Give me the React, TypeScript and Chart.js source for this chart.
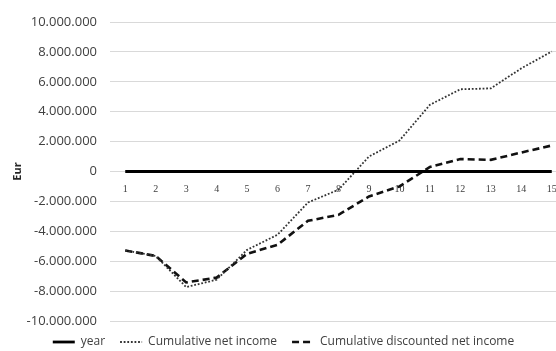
import React, { useEffect, useRef } from "react";
import { Chart, registerables } from "chart.js";

Chart.register(...registerables);

const years = ["1", "2", "3", "4", "5", "6", "7", "8", "9", "10", "11", "12", "13", "14", "15"];
const yearLine = [0, 0, 0, 0, 0, 0, 0, 0, 0, 0, 0, 0, 0, 0, 0];
const cumulativeNetIncome = [
  -5280000, -5650000, -7730000, -7240000, -5240000, -4230000, -2070000, -1220000,
  1000000, 2070000, 4460000, 5500000, 5560000, 6900000, 8030000,
];
const cumulativeDiscounted = [
  -5280000, -5650000, -7420000, -7100000, -5500000, -4900000, -3300000, -2900000,
  -1670000, -1000000, 300000, 830000, 780000, 1270000, 1740000,
];
const yMin = -10000000;
const yMax = 10000000;
const yStep = 2000000;

const formatEur = (v: number) => {
  const sign = v < 0 ? "-" : "";
  return sign + Math.abs(v).toString().replace(/\B(?=(\d{3})+(?!\d))/g, ".");
};

export default function App() {
  const canvasRef = useRef<HTMLCanvasElement | null>(null);

  useEffect(() => {
    if (!canvasRef.current) return;
    const chart = new Chart(canvasRef.current, {
      type: "line",
      data: {
        labels: years,
        datasets: [
          {
            label: "year",
            data: yearLine,
            borderColor: "#000000",
            backgroundColor: "#000000",
            borderWidth: 2.8,
            pointRadius: 0,
            tension: 0,
          },
          {
            label: "Cumulative net income",
            data: cumulativeNetIncome,
            borderColor: "#333333",
            backgroundColor: "#333333",
            borderWidth: 1.8,
            borderDash: [1.8, 1.8],
            pointRadius: 0,
            tension: 0,
          },
          {
            label: "Cumulative discounted net income",
            data: cumulativeDiscounted,
            borderColor: "#111111",
            backgroundColor: "#111111",
            borderWidth: 2.6,
            borderDash: [7, 4],
            pointRadius: 0,
            tension: 0,
          },
        ],
      },
      options: {
        responsive: false,
        animation: false,
        layout: { padding: { top: 22, left: 0, right: 0, bottom: 0 } },
        plugins: {
          tooltip: { enabled: false },
          legend: {
            position: "bottom",
            maxHeight: 30,
            labels: {
              usePointStyle: true,
              pointStyle: "line",
              pointStyleWidth: 22,
              boxHeight: 12,
              padding: 15,
              color: "#404040",
              font: { family: "Open Sans", size: 12 },
              // legend samples follow each dataset's line width and dash pattern
              generateLabels: (c) => {
                const items = Chart.defaults.plugins.legend.labels.generateLabels(c);
                return items.map((item) => {
                  const ds: any = c.data.datasets[item.datasetIndex as number];
                  return {
                    ...item,
                    lineWidth: ds.borderWidth,
                    lineDash: ds.borderDash || [],
                    strokeStyle: ds.borderColor,
                    fillStyle: ds.borderColor,
                  };
                });
              },
            },
          },
        },
        scales: {
          x: {
            type: "category",
            position: { y: 0 },
            offset: true,
            grid: { display: false },
            border: { display: false },
            ticks: {
              color: "#404040",
              padding: 4,
              maxRotation: 0,
              font: { family: "Liberation Serif", size: 10 },
            },
          },
          y: {
            min: yMin,
            max: yMax,
            grid: { color: "#d9d9d9", lineWidth: 1, drawTicks: false },
            border: { display: false },
            ticks: {
              stepSize: yStep,
              padding: 13,
              color: "#404040",
              font: { family: "Open Sans", size: 13 },
              callback: (v) => formatEur(Number(v)),
            },
            title: {
              display: true,
              text: "Eur",
              color: "#262626",
              padding: { top: 11, bottom: 0 },
              font: { family: "Open Sans", size: 11, weight: "bold" },
            },
            afterFit: (scale) => {
              scale.width = 110;
            },
          },
        },
      },
    });
    return () => chart.destroy();
  }, []);

  return (
    <div
      style={{
        position: "fixed",
        top: 0,
        left: 0,
        width: 556,
        height: 351,
        overflow: "hidden",
        background: "#ffffff",
      }}
    >
      <canvas ref={canvasRef} width={567} height={351} style={{ display: "block" }} />
    </div>
  );
}
